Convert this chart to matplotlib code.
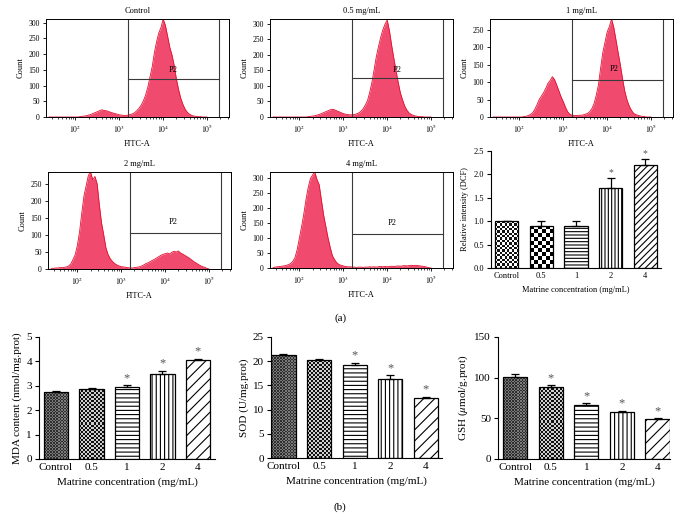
import matplotlib
matplotlib.use("Agg")
import matplotlib.pyplot as plt
import numpy as np
from matplotlib.colors import ListedColormap

plt.rcParams["font.family"] = ["Liberation Serif", "DejaVu Serif"]
plt.rcParams["mathtext.fontset"] = "stix"
plt.rcParams["hatch.linewidth"] = 0.8

# flow cytometry histograms: counts per 0.05-decade bin, log10(FITC-A) from 1.40 to 5.00
LOG_BINS = np.round(np.arange(1.40, 5.001, 0.05), 2)

COUNT_CONTROL = [0, 0, 0, 0, 0, 0, 0, 0, 0, 0, 0, 0, 0, 0,
                 1, 2, 3, 4, 6, 8, 11, 14, 17, 20,
                 23, 21, 20, 18, 15, 13, 11, 9, 7, 6,
                 5, 5, 6, 8, 10, 14, 20, 28, 38, 52,
                 70, 95, 128, 160, 205, 240, 268, 285, 312, 292,
                 258, 222, 198, 165, 122, 88, 60, 40, 25, 15,
                 9, 5, 3, 2, 1, 1, 0, 0, 0]
COUNT_05 = [0, 0, 0, 0, 0, 0, 0, 0, 0, 0, 0, 0, 0, 0, 0, 0,
            1, 2, 3, 4, 6, 8, 11, 14, 17, 20,
            23, 25, 23, 20, 17, 14, 11, 9, 8, 7,
            7, 8, 10, 13, 18, 26, 38, 52, 78, 110,
            150, 192, 225, 255, 280, 298, 312, 278, 232, 190,
            150, 112, 78, 55, 35, 22, 13, 8, 5, 3,
            2, 1, 1, 0, 0, 0, 0]
COUNT_1 = [0, 0, 0, 0, 0, 0, 0, 0, 0, 0, 0, 0, 0, 0,
           1, 2, 4, 7, 12, 22, 35, 50, 60, 70,
           82, 97, 105, 116, 108, 92, 75, 58, 44, 28,
           15, 8, 5, 4, 4, 5, 5, 6, 8, 10,
           15, 24, 38, 62, 92, 140, 185, 215, 245, 260,
           282, 258, 222, 185, 150, 110, 75, 50, 32, 20,
           11, 7, 5, 3, 2, 1, 0, 0, 0]
COUNT_2 = [2, 2, 3, 3, 4, 4, 5, 6, 9, 15,
           28, 42, 70, 110, 165, 215, 245, 275, 285, 262,
           272, 250, 188, 135, 100, 62, 42, 30, 22, 16,
           12, 9, 7, 6, 5, 4, 3, 3, 4, 5,
           6, 8, 11, 15, 18, 21, 25, 28, 32, 36,
           40, 43, 45, 47, 44, 49, 52, 50, 53, 47,
           44, 40, 36, 32, 27, 22, 18, 14, 10, 7,
           5, 2, 0]
COUNT_4 = [2, 3, 4, 5, 6, 7, 9, 11, 15, 22,
           35, 62, 100, 138, 180, 228, 268, 298, 310, 320,
           295, 278, 228, 178, 140, 102, 70, 42, 28, 18,
           12, 9, 7, 5, 4, 4, 3, 3, 2, 3,
           3, 2, 3, 3, 4, 3, 4, 3, 4, 5,
           4, 5, 4, 5, 6, 5, 6, 7, 6, 7,
           8, 7, 8, 9, 8, 9, 8, 7, 6, 5,
           3, 1, 0]

HIST_TITLES = ["Control", "0.5 mg/mL", "1 mg/mL", "2 mg/mL", "4 mg/mL"]
HIST_COUNTS = [COUNT_CONTROL, COUNT_05, COUNT_1, COUNT_2, COUNT_4]
HIST_YMAX = [312, 315, 282, 285, 320]
HIST_YTICKS = [[0, 50, 100, 150, 200, 250, 300]] * 2 + [[0, 50, 100, 150, 200, 250]] * 2 + [[0, 50, 100, 150, 200, 250, 300]]
GATE_LEVEL = [120, 125, 106, 105, 113]
GATE_LEFT, GATE_RIGHT = 3.2, 5.28
P2_POS = [(4.22, 150), (4.22, 152), (4.15, 137), (4.19, 138), (4.11, 150)]

# bar charts
CONC = ["Control", "0.5", "1", "2", "4"]
DCF = [1.0, 0.9, 0.9, 1.71, 2.2]
DCF_ERR = [0.0, 0.1, 0.11, 0.21, 0.12]
DCF_SIG = [False, False, False, True, True]
MDA = [2.75, 2.87, 2.97, 3.5, 4.05]
MDA_ERR = [0.02, 0.03, 0.06, 0.12, 0.05]
MDA_SIG = [False, False, True, True, True]
SOD = [21.3, 20.2, 19.3, 16.4, 12.3]
SOD_ERR = [0.2, 0.2, 0.4, 0.7, 0.3]
SOD_SIG = [False, False, True, True, True]
GSH = [101, 89, 67, 58, 49]
GSH_ERR = [3, 1.5, 1.5, 1.5, 1]
GSH_SIG = [False, True, True, True, True]

W, H = 683, 528
fig = plt.figure(figsize=(W / 100, H / 100), dpi=100)


def px_axes(l, r, t, b):
    return fig.add_axes([l / W, 1 - b / H, (r - l) / W, (b - t) / H])


def checker_fill(ax, bar, cell, c1, c2):
    bb = bar.get_window_extent()
    nx = max(1, int(round(bb.width / cell)))
    ny = max(1, int(round(bb.height / cell)))
    grid = np.add.outer(np.arange(ny), np.arange(nx)) % 2
    x0, w, h = bar.get_x(), bar.get_width(), bar.get_height()
    im = ax.imshow(grid, extent=(x0, x0 + w, 0, h), origin="lower", aspect="auto",
                   cmap=ListedColormap([c1, c2]), interpolation="nearest", zorder=1)
    im.set_clip_path(bar)


def plot_hist(ax, i):
    counts = HIST_COUNTS[i]
    ax.fill_between(LOG_BINS, counts, color="#f04a6e", lw=0, zorder=1)
    ax.plot(LOG_BINS, counts, color="#e2102f", lw=0.6, zorder=2)
    ax.axvline(GATE_LEFT, color="#3a3a3a", lw=0.8)
    ax.axvline(GATE_RIGHT, color="#3a3a3a", lw=0.8)
    ax.plot([GATE_LEFT, GATE_RIGHT], [GATE_LEVEL[i]] * 2, color="#3a3a3a", lw=0.8)
    ax.text(*P2_POS[i], "P2", fontsize=6, ha="center", va="center")
    ax.set_xlim(1.33, 5.5)
    ax.set_ylim(0, HIST_YMAX[i])
    ax.set_xticks([2, 3, 4, 5])
    ax.set_xticklabels([r"$10^{2}$", r"$10^{3}$", r"$10^{4}$", r"$10^{5}$"])
    minor = [n + np.log10(k) for n in range(1, 6) for k in range(2, 10)]
    ax.set_xticks([m for m in minor if 1.33 < m < 5.5], minor=True)
    ax.set_yticks(HIST_YTICKS[i])
    ax.tick_params(labelsize=5.5, length=2.5, width=0.6, pad=2)
    ax.tick_params(which="minor", length=1.5, width=0.5)
    for s in ax.spines.values():
        s.set_linewidth(0.7)
    ax.set_title(HIST_TITLES[i], fontsize=6, pad=4)
    ax.set_xlabel("FITC-A", fontsize=6, labelpad=3)
    ax.set_ylabel("Count", fontsize=6, labelpad=3)


hist_boxes = [(46, 229, 19, 117), (270, 453, 19, 117), (490, 673, 19, 117),
              (48, 231, 172, 269), (270, 453, 172, 268)]
for i, box in enumerate(hist_boxes):
    plot_hist(px_axes(*box), i)


def plot_bars(ax, vals, errs, sig, ylim, yticks, ylabel, styles, fs, xlim, fmt=None):
    x = np.arange(len(CONC))
    ax.set_xlim(*xlim)
    ax.set_ylim(*ylim)
    bars = ax.bar(x, vals, width=0.68, color="white", edgecolor="black", lw=0.9, zorder=2)
    for bar, st in zip(bars, styles):
        if st[0] == "checker":
            bar.set_facecolor("none")
            checker_fill(ax, bar, st[1], st[2], st[3])
        else:
            bar.set_hatch(st[1])
    ax.set_xlim(*xlim)
    ax.set_ylim(*ylim)
    ax.errorbar(x, vals, yerr=[np.zeros(len(errs)), errs], fmt="none", ecolor="black",
                elinewidth=0.9, capsize=3, capthick=0.9, zorder=3)
    top = ylim[1]
    for xi, v, e, s in zip(x, vals, errs, sig):
        if s:
            ax.text(xi, v + e + top * 0.01, "*", ha="center", va="bottom",
                    fontsize=fs + 1, color="#555555")
    ax.set_xticks(x)
    ax.set_xticklabels(CONC)
    ax.set_yticks(yticks)
    if fmt:
        ax.set_yticklabels([fmt.format(t) for t in yticks])
    ax.spines["top"].set_visible(False)
    ax.spines["right"].set_visible(False)
    ax.spines["left"].set_linewidth(0.8)
    ax.spines["bottom"].set_linewidth(0.8)
    ax.tick_params(axis="y", labelsize=fs, length=3, width=0.8, pad=2)
    ax.tick_params(axis="x", labelsize=fs, length=0, pad=3)
    ax.set_xlabel("Matrine concentration (mg/mL)", fontsize=fs, labelpad=4)
    ax.set_ylabel(ylabel, fontsize=fs, labelpad=3)


dcf_styles = [("checker", 2.3, "#111111", "#ffffff"), ("checker", 4.0, "#000000", "#ffffff"),
              ("hatch", "-----"), ("hatch", "|||||"), ("hatch", "/////")]
low_styles = [("checker", 1.5, "#2e2e2e", "#7a7a7a"), ("checker", 2.0, "#111111", "#cfcfcf"),
              ("hatch", "----"), ("hatch", "||||"), ("hatch", "///")]

ax = px_axes(491, 661, 151, 268)
plot_bars(ax, DCF, DCF_ERR, DCF_SIG, (0, 2.5), [0, 0.5, 1.0, 1.5, 2.0, 2.5],
          "Relative intensity (DCF)", dcf_styles, 6, (-0.45, 4.45), "{:.1f}")

ax = px_axes(39, 215, 337, 459)
plot_bars(ax, MDA, MDA_ERR, MDA_SIG, (0, 5), [0, 1, 2, 3, 4, 5],
          "MDA content (nmol/mg.prot)", low_styles, 8, (-0.48, 4.48))

ax = px_axes(271, 442, 337, 458)
plot_bars(ax, SOD, SOD_ERR, SOD_SIG, (0, 25), [0, 5, 10, 15, 20, 25],
          "SOD (U/mg.prot)", low_styles, 8, (-0.35, 4.45))

ax = px_axes(498, 670, 337, 459)
plot_bars(ax, GSH, GSH_ERR, GSH_SIG, (0, 150), [0, 50, 100, 150],
          r"GSH ($\mu$mol/g.prot)", low_styles, 8, (-0.48, 4.35))

fig.text(341 / W, 1 - 318 / H, "(a)", fontsize=8, ha="center", va="center")
fig.text(340 / W, 1 - 507 / H, "(b)", fontsize=8, ha="center", va="center")

fig.savefig("out.png", dpi=100)
